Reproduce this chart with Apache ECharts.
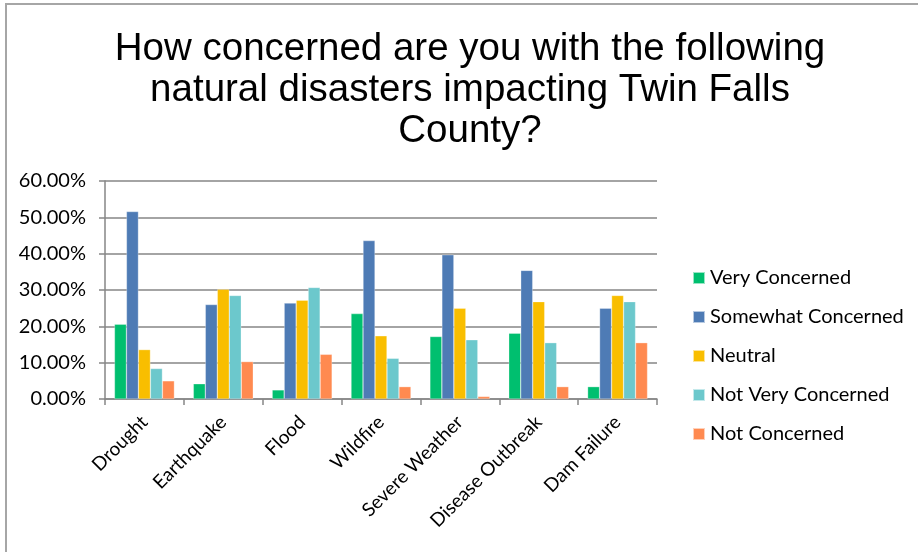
<!DOCTYPE html>
<html>
<head>
<meta charset="utf-8">
<script src="https://cdn.jsdelivr.net/npm/echarts@6/dist/echarts.min.js"></script>
<style>
  html, body { margin: 0; padding: 0; background: #fff; }
  #chart { width: 918px; height: 552px; }
</style>
</head>
<body>
<div id="chart"></div>
<script>
var categories = ["Drought", "Earthquake", "Flood", "Wildfire", "Severe Weather", "Disease Outbreak", "Dam Failure"];
var seriesNames = ["Very Concerned", "Somewhat Concerned", "Neutral", "Not Very Concerned", "Not Concerned"];
var veryConcerned = [20.6, 4.2, 2.5, 23.5, 17.2, 18.1, 3.4];
var somewhatConcerned = [51.6, 26.0, 26.4, 43.6, 39.7, 35.4, 25.0];
var neutral = [13.6, 30.2, 27.2, 17.4, 25.0, 26.8, 28.5];
var notVeryConcerned = [8.4, 28.5, 30.7, 11.2, 16.3, 15.5, 26.8];
var notConcerned = [5.0, 10.3, 12.3, 3.4, 0.7, 3.4, 15.5];
var yTicks = [0, 10, 20, 30, 40, 50, 60];

var colors = ["#00bf6f", "#4e7bb5", "#f9be00", "#6cc8cc", "#ff8a50"];
var allValues = [veryConcerned, somewhatConcerned, neutral, notVeryConcerned, notConcerned];

var myChart = echarts.init(document.getElementById("chart"));

var series = seriesNames.map(function (name, i) {
  return {
    name: name,
    type: "bar",
    data: allValues[i],
    barGap: "0%",
    barCategoryGap: "24%",
    itemStyle: {
      color: colors[i],
      borderColor: "rgba(255,255,255,0.6)",
      borderWidth: 0.5
    }
  };
});

var option = {
  animation: false,
  backgroundColor: "#fff",
  title: {
    text: "How concerned are you with the following\nnatural disasters impacting Twin Falls\nCounty?",
    left: 465,
    top: 24,
    textAlign: "center",
    textStyle: {
      fontFamily: "Liberation Sans",
      fontWeight: "normal",
      fontSize: 38.5,
      lineHeight: 41,
      color: "#000"
    }
  },
  graphic: [
    {
      type: "rect",
      shape: { x: 6, y: 4, width: 1000, height: 1000 },
      style: { fill: "none", stroke: "#a6a6a6", lineWidth: 2 },
      silent: true
    }
  ],
  legend: {
    orient: "vertical",
    left: 687,
    top: 263,
    itemWidth: 12,
    itemHeight: 12,
    itemGap: 19,
    icon: "rect",
    data: seriesNames,
    textStyle: {
      fontFamily: "Lato",
      fontSize: 20,
      color: "#000"
    }
  },
  grid: {
    left: 105,
    right: 261,
    top: 181,
    bottom: 153,
    containLabel: false
  },
  xAxis: {
    type: "category",
    data: categories,
    axisLine: { lineStyle: { color: "#868686", width: 1.5 } },
    axisTick: { show: true, length: 6, lineStyle: { color: "#868686", width: 1.5 } },
    axisLabel: {
      rotate: 45,
      interval: 0,
      margin: 20,
      fontFamily: "Lato",
      fontSize: 19,
      color: "#000"
    }
  },
  yAxis: {
    type: "value",
    min: yTicks[0],
    max: yTicks[yTicks.length - 1],
    interval: 10,
    axisLine: { show: true, lineStyle: { color: "#868686", width: 1.5 } },
    axisTick: { show: true, length: 6, lineStyle: { color: "#868686", width: 1.5 } },
    splitLine: { lineStyle: { color: "#868686", width: 1.5 } },
    axisLabel: {
      margin: 19,
      fontFamily: "Lato",
      fontSize: 20,
      color: "#000",
      formatter: function (v) { return v.toFixed(2) + "%"; }
    }
  },
  series: series
};

myChart.setOption(option);
</script>
</body>
</html>
